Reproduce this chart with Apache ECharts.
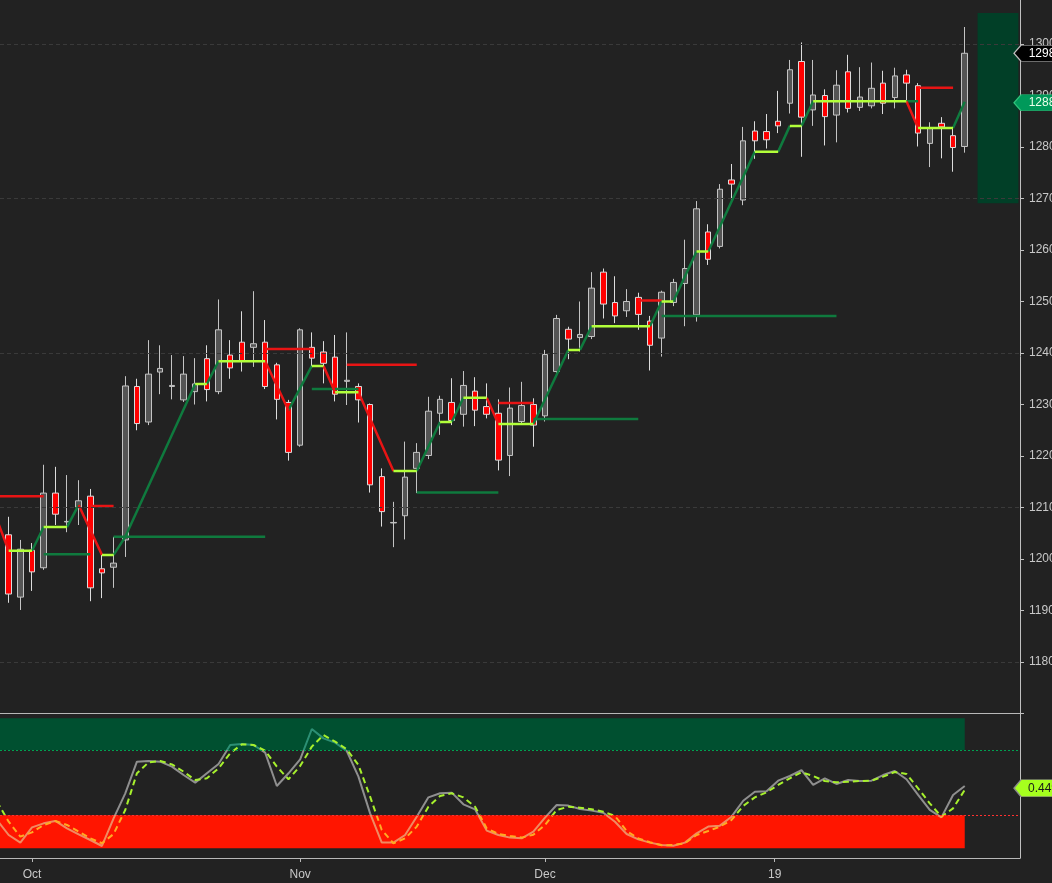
<!DOCTYPE html>
<html><head><meta charset="utf-8">
<script src="https://cdn.jsdelivr.net/npm/echarts@6/dist/echarts.min.js"></script>
<style>html,body{margin:0;padding:0;background:#222222;}#c{width:1052px;height:883px;}</style>
</head><body><div id="c"></div>
<script>
// ---------- data ----------
const dates = [
 '2018-09-26','2018-09-27','2018-09-28',
 '2018-10-01','2018-10-02','2018-10-03','2018-10-04','2018-10-05',
 '2018-10-08','2018-10-09','2018-10-10','2018-10-11','2018-10-12',
 '2018-10-15','2018-10-16','2018-10-17','2018-10-18','2018-10-19',
 '2018-10-22','2018-10-23','2018-10-24','2018-10-25','2018-10-26',
 '2018-10-29','2018-10-30','2018-10-31',
 '2018-11-01','2018-11-02','2018-11-05','2018-11-06','2018-11-07','2018-11-08','2018-11-09',
 '2018-11-12','2018-11-13','2018-11-14','2018-11-15','2018-11-16',
 '2018-11-19','2018-11-20','2018-11-21','2018-11-23',
 '2018-11-26','2018-11-27','2018-11-28','2018-11-29','2018-11-30',
 '2018-12-03','2018-12-04','2018-12-05','2018-12-06','2018-12-07',
 '2018-12-10','2018-12-11','2018-12-12','2018-12-13','2018-12-14',
 '2018-12-17','2018-12-18','2018-12-19','2018-12-20','2018-12-21',
 '2018-12-24','2018-12-26','2018-12-27','2018-12-28','2018-12-31',
 '2019-01-02','2019-01-03','2019-01-04',
 '2019-01-07','2019-01-08','2019-01-09','2019-01-10','2019-01-11',
 '2019-01-14','2019-01-15','2019-01-16','2019-01-17','2019-01-18',
 '2019-01-22','2019-01-23','2019-01-24','2019-01-25'
];
const openP  = [1208.0,1204.7,1192.6,1201.7,1198.3,1212.8,1207.2,1210.1,1212.2,1198.1,1198.4,1203.7,1233.5,1226.6,1236.3,1233.5,1230.9,1232.5,1238.9,1232.5,1239.6,1242.1,1241.1,1242.1,1237.7,1230.4,1222.1,1241.1,1240.2,1239.2,1234.5,1233.5,1230.0,1216.0,1207.0,1208.4,1217.6,1220.1,1228.3,1230.4,1228.1,1232.6,1229.6,1228.3,1220.1,1226.7,1230.0,1227.8,1236.4,1244.6,1243.0,1243.2,1255.7,1249.8,1248.2,1250.8,1246.2,1242.9,1249.8,1253.5,1247.4,1263.5,1260.7,1273.6,1269.7,1283.1,1283.0,1285.0,1288.5,1296.6,1287.2,1290.0,1286.2,1294.6,1287.7,1288.0,1292.4,1289.6,1294.0,1291.9,1280.7,1284.6,1282.2,1280.1];
const closeP = [1204.0,1193.2,1201.9,1197.5,1212.8,1208.7,1207.3,1211.3,1194.4,1197.3,1199.2,1233.6,1226.3,1235.9,1237.0,1233.7,1235.9,1234.0,1232.9,1244.5,1237.1,1238.4,1241.8,1233.5,1231.0,1220.7,1244.5,1239.0,1238.0,1232.0,1234.7,1230.9,1214.4,1209.2,1207.1,1215.9,1220.7,1228.7,1231.0,1226.9,1233.7,1228.9,1228.1,1219.2,1229.3,1229.8,1226.0,1239.7,1246.7,1242.7,1243.6,1252.6,1249.5,1247.2,1250.0,1247.5,1241.5,1251.8,1253.7,1256.4,1268.0,1258.2,1271.8,1272.8,1281.2,1281.2,1281.4,1284.1,1295.0,1285.8,1290.1,1285.9,1292.0,1287.5,1289.7,1291.4,1288.5,1293.8,1292.4,1282.7,1283.6,1283.9,1279.9,1298.2];
const lowP   = [1200.0,1191.5,1190.1,1193.8,1197.9,1206.6,1205.2,1206.6,1191.8,1192.4,1194.4,1200.4,1225.0,1226.0,1232.0,1231.0,1230.5,1230.0,1230.6,1232.0,1235.0,1236.4,1237.3,1233.0,1227.1,1219.1,1221.8,1237.3,1234.1,1230.6,1229.9,1226.5,1212.9,1206.3,1202.3,1203.8,1212.8,1219.4,1224.1,1226.0,1225.7,1225.8,1227.3,1217.2,1216.1,1226.2,1221.8,1226.7,1235.5,1238.8,1240.3,1242.7,1246.7,1245.8,1247.0,1244.5,1236.6,1239.3,1249.1,1245.2,1246.1,1257.1,1260.3,1269.5,1268.7,1277.7,1279.7,1282.7,1286.5,1278.1,1284.1,1280.3,1280.9,1286.7,1287.0,1287.5,1286.4,1287.5,1289.1,1280.1,1276.1,1277.8,1275.2,1278.9];
const highP  = [1212.0,1208.2,1203.7,1203.1,1218.3,1217.9,1216.3,1215.3,1213.6,1200.8,1204.3,1235.5,1235.0,1242.5,1241.5,1239.6,1239.4,1239.0,1241.5,1250.4,1242.5,1248.1,1252.0,1246.4,1238.1,1230.9,1244.8,1244.0,1242.3,1243.5,1244.0,1234.1,1230.2,1217.6,1211.1,1222.8,1222.5,1231.5,1231.7,1235.1,1236.5,1235.3,1234.1,1231.0,1233.3,1234.4,1231.2,1240.6,1247.4,1245.1,1250.0,1255.7,1256.4,1254.9,1252.4,1251.7,1247.2,1252.1,1254.4,1262.0,1269.5,1265.0,1272.8,1276.7,1283.9,1285.0,1286.4,1290.9,1296.9,1300.3,1296.9,1291.2,1294.9,1297.9,1295.5,1296.4,1294.8,1295.4,1295.0,1292.4,1284.8,1285.8,1283.6,1303.3];

// trailing-stop line vertices [bar index, price]
const trail = [[0,1207.6],[1,1201.6],[3,1201.6],[4,1206.2],[6,1206.2],[7,1210.5],[9,1200.8],[10,1200.8],
 [11,1204.3],[17,1234.0],[18,1234.0],[19,1238.4],[23,1238.4],[25,1228.9],[27,1237.5],[28,1237.5],
 [29,1232.4],[31,1232.4],[34,1217.1],[36,1217.1],[38,1226.6],[39,1226.6],[40,1231.3],[42,1231.3],
 [43,1226.2],[46,1226.2],[49,1240.6],[50,1240.6],[51,1245.2],[56,1245.2],[57,1250.0],[58,1250.0],
 [60,1259.7],[61,1259.7],[62,1264.5],[63,1269.4],[64,1274.2],[65,1279.1],[67,1279.1],[68,1284.1],
 [69,1284.1],[70,1288.9],[78,1288.9],[79,1283.7],[82,1283.7],[83,1288.8]];
// horizontal levels [from bar, to bar, price]
const resistLevels = [[0,4,1212.2],[8,10,1210.3],[23,27,1240.8],[30,36,1237.7],[43,46,1230.3],[55,57,1250.2],[79,82,1291.5]];
const supportLevels = [[4,8,1200.9],[10,23,1204.3],[27,31,1233.0],[36,43,1212.9],[46,55,1227.2],[57,72,1247.2],[78,79,1288.9]];

// oscillator (lower panel)
const oscFast = [0.157,0.019,-0.051,0.089,0.126,0.148,0.080,0.025,-0.027,-0.082,0.172,0.402,0.693,0.699,0.693,0.647,0.570,0.500,0.586,0.672,0.846,0.855,0.846,0.776,0.469,0.586,0.714,0.993,0.907,0.868,0.791,0.555,0.218,-0.051,-0.051,0.019,0.187,0.365,0.402,0.408,0.301,0.255,0.059,0.019,-0.005,-0.012,0.050,0.178,0.295,0.289,0.258,0.243,0.224,0.141,0.028,-0.021,-0.051,-0.073,-0.079,-0.051,0.034,0.096,0.105,0.187,0.334,0.417,0.420,0.518,0.561,0.616,0.479,0.540,0.488,0.524,0.515,0.518,0.570,0.607,0.531,0.387,0.249,0.181,0.387,0.469];
const oscSlow = [0.325,0.141,0.004,0.043,0.111,0.148,0.111,0.050,-0.012,-0.057,0.028,0.249,0.586,0.687,0.699,0.668,0.601,0.524,0.540,0.632,0.770,0.852,0.846,0.794,0.647,0.531,0.653,0.831,0.938,0.877,0.806,0.662,0.371,0.065,-0.057,-0.012,0.096,0.279,0.377,0.402,0.365,0.279,0.080,0.028,0.010,-0.005,0.022,0.111,0.249,0.279,0.270,0.255,0.233,0.194,0.056,-0.012,-0.048,-0.076,-0.073,-0.057,0.019,0.056,0.096,0.157,0.286,0.365,0.411,0.479,0.540,0.595,0.561,0.515,0.503,0.509,0.515,0.518,0.555,0.598,0.580,0.448,0.310,0.187,0.264,0.433];
const oscLevels = [0.2, 0.8];
const oscLowBand = [-0.103, 0.2];
const oscHighBand = [0.8, 1.092];
const oscTagValue = 0.449;

// price axis ticks / grid
const priceTicks = [1180,1190,1200,1210,1220,1230,1240,1250,1260,1270,1280,1290,1300];
const priceGridLines = [1180,1210,1240,1270,1300];
const lastPriceTag = 1298.2;
const trailTag = 1288.6;
const projZone = [84.1, 87.6, 1269.1, 1306.0]; // bar from, bar to, low, high

// time axis ticks
const xTickIdx = [3, 26, 47, 66.7];
const xTickLabels = ['Oct','Nov','Dec','19'];

// ---------- build ----------
const xMin = 0.256, xMax = 87.74;
const FONT = '"Liberation Sans", Arial, sans-serif';
const candles = dates.map((d,i)=>[i, openP[i], closeP[i], lowP[i], highP[i]]);
const trailFlat=[], trailUp=[], trailDown=[];
for (let i=0;i<trail.length-1;i++){
  const a=trail[i], b=trail[i+1];
  const tgt = b[1]>a[1]?trailUp:(b[1]<a[1]?trailDown:trailFlat);
  tgt.push([a[0],a[1]],[b[0],b[1]],[b[0],'-']);
}
function levelData(lv){const out=[];lv.forEach(s=>{out.push([s[0],s[2]],[s[1],s[2]],[s[1],'-']);});return out;}
const tagPath = 'path://M0,8L7,0L48,0L48,16L7,16Z';
const LIME='#b2ff3a', DKGREEN='#0f7a3e', RED='#e81414';

const option = {
  backgroundColor:'#222222',
  animation:false,
  textStyle:{fontFamily:FONT},
  grid:[
    {left:0,right:32,top:-7.5,height:721,containLabel:false,outerBoundsMode:'none'},
    {left:0,right:32,top:712.5,height:145.5,containLabel:false,outerBoundsMode:'none'}
  ],
  xAxis:[
    {type:'value',gridIndex:0,min:xMin,max:xMax,
     axisLine:{show:true,onZero:false,lineStyle:{color:'#b8b8b8',width:1}},
     axisTick:{show:false},axisLabel:{show:false},splitLine:{show:false}},
    {type:'value',gridIndex:1,min:xMin,max:xMax,
     axisLine:{show:true,onZero:false,lineStyle:{color:'#b8b8b8',width:1}},
     axisTick:{show:true,customValues:xTickIdx,length:4,lineStyle:{color:'#b8b8b8'}},
     axisLabel:{show:true,customValues:xTickIdx,margin:11,color:'#c8c8c8',fontSize:12,fontFamily:FONT,
       formatter:v=>{const j=xTickIdx.findIndex(t=>Math.abs(t-v)<1e-6);return j>=0?xTickLabels[j]:'';}},
     splitLine:{show:false}}
  ],
  yAxis:[
    {type:'value',gridIndex:0,position:'right',min:1170,max:1310,interval:10,
     axisLine:{show:true,onZero:false,lineStyle:{color:'#c0c0c0',width:1}},
     axisTick:{show:true,length:4,lineStyle:{color:'#c0c0c0'}},
     axisLabel:{show:true,margin:9,color:'#c8c8c8',fontSize:12,fontFamily:FONT,
       formatter:v=>priceTicks.indexOf(v)>=0?String(v):''},
     splitLine:{show:false}},
    {type:'value',gridIndex:1,position:'right',min:-0.1924,max:1.1446,
     axisLine:{show:true,onZero:false,lineStyle:{color:'#c0c0c0',width:1}},
     axisTick:{show:false},axisLabel:{show:false},splitLine:{show:false}}
  ],
  series:[
    {type:'line',xAxisIndex:0,yAxisIndex:0,z:1,data:[],silent:true,
     markLine:{silent:true,symbol:['none','none'],label:{show:false},
       lineStyle:{type:[4,3],color:'#3a3a3a',width:1},
       data:priceGridLines.map(v=>({yAxis:v}))},
     markArea:{silent:true,itemStyle:{color:'#013f27'},
       data:[[{coord:[projZone[0],projZone[3]]},{coord:[projZone[1],projZone[2]]}]]}},
    {type:'candlestick',xAxisIndex:0,yAxisIndex:0,z:2,barWidth:6,data:candles,
     itemStyle:{color:'#555555',color0:'#ff0000',borderColor:'#c4c4c4',borderColor0:'#dcdcdc',borderColorDoji:'#c4c4c4',borderWidth:1},
     markPoint:{silent:true,data:[
       {coord:[xMax,lastPriceTag],value:Math.floor(lastPriceTag),symbol:tagPath,symbolSize:[48,16],symbolOffset:[18,0],
        itemStyle:{color:'#000000',borderColor:'#bdbdbd',borderWidth:1},
        label:{show:true,position:'inside',offset:[4,0],color:'#ffffff',fontSize:12,fontFamily:FONT,formatter:p=>String(p.value)}},
       {coord:[xMax,trailTag],value:Math.floor(trailTag),symbol:tagPath,symbolSize:[48,16],symbolOffset:[18,0],
        itemStyle:{color:'#00995a',borderColor:'#2fc27a',borderWidth:1},
        label:{show:true,position:'inside',offset:[4,0],color:'#eaffea',fontSize:12,fontFamily:FONT,formatter:p=>String(p.value)}}
     ]}},
    {type:'line',xAxisIndex:0,yAxisIndex:0,z:3,symbol:'none',data:levelData(supportLevels),lineStyle:{color:DKGREEN,width:2.5}},
    {type:'line',xAxisIndex:0,yAxisIndex:0,z:3,symbol:'none',data:levelData(resistLevels),lineStyle:{color:RED,width:2.5}},
    {type:'line',xAxisIndex:0,yAxisIndex:0,z:4,symbol:'none',data:trailUp,lineStyle:{color:DKGREEN,width:2.5}},
    {type:'line',xAxisIndex:0,yAxisIndex:0,z:4,symbol:'none',data:trailDown,lineStyle:{color:RED,width:2.5}},
    {type:'line',xAxisIndex:0,yAxisIndex:0,z:4,symbol:'none',data:trailFlat,lineStyle:{color:LIME,width:2.5}},
    // lower panel
    {type:'line',xAxisIndex:1,yAxisIndex:1,z:1,data:[],silent:true,
     markArea:{silent:true,data:[
       [{coord:[xMin,oscHighBand[0]],itemStyle:{color:'#005030'}},{coord:[83,oscHighBand[1]]}],
       [{coord:[xMin,oscLowBand[0]],itemStyle:{color:'#ff1500'}},{coord:[83,oscLowBand[1]]}]
     ]}},
    {type:'line',xAxisIndex:1,yAxisIndex:1,z:2,data:[],silent:true,
     markLine:{silent:true,symbol:['none','none'],label:{show:false},data:[
       [{coord:[xMin,oscLevels[1]],lineStyle:{color:'#00a050',type:[2,2],width:1}},{coord:[87.6,oscLevels[1]]}],
       [{coord:[xMin,oscLevels[0]],lineStyle:{color:'#ff3030',type:[2,2],width:1}},{coord:[87.6,oscLevels[0]]}]
     ]}},
    {id:'oscFast',type:'line',xAxisIndex:1,yAxisIndex:1,z:3,symbol:'none',data:oscFast.map((v,i)=>[i,v]),
     lineStyle:{width:2,color:'#8f8f8f'}},
    {id:'oscSlow',type:'line',xAxisIndex:1,yAxisIndex:1,z:4,symbol:'none',data:oscSlow.map((v,i)=>[i,v]),
     lineStyle:{width:2,type:[6,4],color:'#a6f02c'},
     markPoint:{silent:true,data:[
       {coord:[xMax,oscTagValue],value:oscTagValue.toFixed(3),symbol:tagPath,symbolSize:[48,17],symbolOffset:[18,0],
        itemStyle:{color:'#a6ff1e',borderColor:'#8a8a8a',borderWidth:1},
        label:{show:true,position:'inside',offset:[5,0],color:'#1a1a1a',fontSize:12,fontFamily:FONT,formatter:p=>String(p.value)}}
     ]}}
  ]
};
const chart = echarts.init(document.getElementById('c'),null,{renderer:'canvas'});
chart.setOption(option);

// zone-dependent line colours (band tinting), positioned through the axis scale
function zoneGradient(top, mid, low){
  const yTop = chart.convertToPixel({gridIndex:1},[xMin, 1.1446])[1];
  const yBot = chart.convertToPixel({gridIndex:1},[xMin, -0.1924])[1];
  const yHi = chart.convertToPixel({gridIndex:1},[xMin, oscLevels[1]])[1];
  const yLo = chart.convertToPixel({gridIndex:1},[xMin, oscLevels[0]])[1];
  const h = yBot - yTop, oHi = (yHi-yTop)/h, oLo = (yLo-yTop)/h;
  return new echarts.graphic.LinearGradient(0, yTop, 0, yBot, [
    {offset:0,color:top},{offset:oHi,color:top},{offset:oHi,color:mid},
    {offset:oLo,color:mid},{offset:oLo,color:low},{offset:1,color:low}], true);
}
chart.setOption({series:[
  {id:'oscFast',lineStyle:{color:zoneGradient('#2c8f74','#8f8f8f','#f08a62')}},
  {id:'oscSlow',lineStyle:{color:zoneGradient('#a6f02c','#a6f02c','#ffaa22')}}
]});
</script></body></html>
